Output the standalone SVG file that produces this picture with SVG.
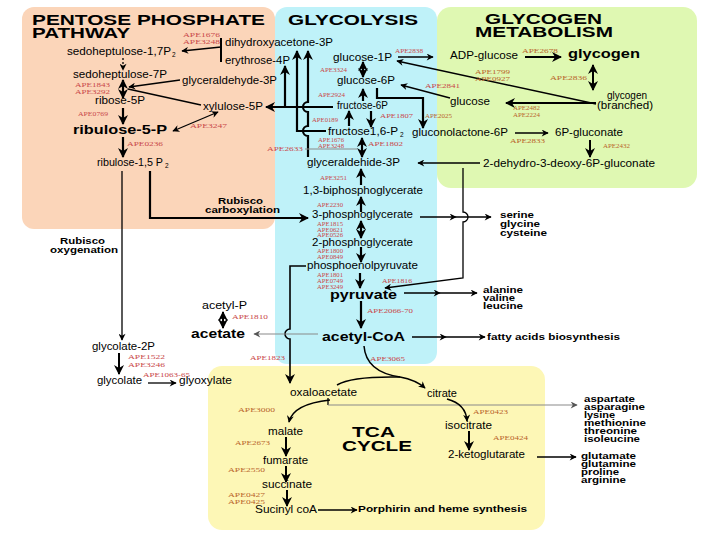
<svg xmlns="http://www.w3.org/2000/svg" width="720" height="540" viewBox="0 0 720 540">
<defs>
<style>
text{font-family:"Liberation Sans",Arial,sans-serif;fill:#000}
.n{font-size:10.5px}
.b{font-size:12.5px;font-weight:bold}
.t{font-size:14.5px;font-weight:bold}
.tc{font-size:15px;font-weight:bold}
.l{font-size:8.5px;font-weight:bold}
.s{font-size:6.5px}
.r{font-family:"Liberation Serif","Times New Roman",serif;font-size:6.5px;fill:#c9484a}
.o{font-family:"Liberation Serif","Times New Roman",serif;font-size:6.5px;fill:#b9652c}
.ln{fill:none;stroke:#000;stroke-width:1.3}
.tk{fill:none;stroke:#000;stroke-width:2.2}
.g{fill:none;stroke:#8a8a8a;stroke-width:1.2}
</style>
<marker id="a" viewBox="0 0 10 10" refX="9" refY="5" markerWidth="8" markerHeight="7" markerUnits="userSpaceOnUse" orient="auto-start-reverse"><path d="M0,0 L10,5 L0,10 L3,5z" fill="#000"/></marker>
<marker id="A" viewBox="0 0 10 10" refX="9" refY="5" markerWidth="10" markerHeight="10" markerUnits="userSpaceOnUse" orient="auto-start-reverse"><path d="M0,0 L10,5 L0,10 L3,5z" fill="#000"/></marker>
<marker id="ag" viewBox="0 0 10 10" refX="9" refY="5" markerWidth="8" markerHeight="7" markerUnits="userSpaceOnUse" orient="auto-start-reverse"><path d="M0,0 L10,5 L0,10 L3,5z" fill="#555"/></marker>
</defs>
<rect width="720" height="540" fill="#fff"/>
<g id="regions">
<rect x="22" y="7" width="253" height="222" rx="12" fill="#fbd5b9"/>
<rect x="275" y="7" width="162" height="357" rx="12" fill="#bff2f9"/>
<rect x="437" y="7" width="260" height="181" rx="14" fill="#dff8b2"/>
<rect x="208" y="366" width="337" height="164" rx="14" fill="#fdf7b6"/>
</g>
<g id="connectors">
<path class="tk" style="stroke-width:2" d="M221,38 V62"/>
<path class="ln" d="M221,47 L182,51" marker-end="url(#a)"/>
<path class="ln" d="M123,58 V70" stroke-dasharray="2,2" marker-end="url(#a)"/>
<path class="tk" d="M123,80 V98" marker-start="url(#A)" marker-end="url(#A)"/>
<path class="ln" d="M180,80 L129,87" marker-end="url(#a)"/>
<path class="ln" d="M128,89 L201,105"/>
<path class="tk" d="M123,108 V124" marker-end="url(#A)"/>
<path class="ln" d="M173,131 L218,112" marker-start="url(#a)" marker-end="url(#a)"/>
<path class="tk" d="M123,137 V157" marker-end="url(#A)"/>
<path class="ln" d="M122,171 V340" marker-end="url(#a)"/>
<path class="tk" d="M150,171 V218 H308" marker-end="url(#A)"/>
<path class="tk" d="M285,107 V66" marker-end="url(#A)"/>
<path class="tk" d="M333,107 H266" marker-end="url(#A)"/>
<path class="tk" d="M326,131 H297 V51" marker-end="url(#A)"/>
<path class="tk" d="M308,157 V136 A5,5 0 0 1 308,126 V112 A5,5 0 0 1 308,102 V51" marker-end="url(#A)"/>
<path class="tk" d="M363,62 V77" marker-start="url(#A)" marker-end="url(#A)"/>
<path class="tk" d="M363,101 V89" marker-end="url(#A)"/>
<path class="tk" d="M377,88 V98 H423 V128" marker-end="url(#A)"/>
<path class="tk" d="M349,126 V111" marker-end="url(#A)"/>
<path class="tk" d="M371,111 V127" marker-end="url(#A)"/>
<path class="tk" d="M362,138 V157" marker-start="url(#A)" marker-end="url(#A)"/>
<path class="g" d="M305,149 H357"/>
<path class="tk" d="M361,185 V169" marker-end="url(#A)"/>
<path class="tk" d="M361,212 V197" marker-end="url(#A)"/>
<path class="tk" d="M361,221 V238" marker-start="url(#A)" marker-end="url(#A)"/>
<path class="tk" d="M361,247 V262" marker-end="url(#A)"/>
<path class="tk" d="M360,273 V288" marker-end="url(#A)"/>
<path class="tk" d="M361,301 V328" marker-end="url(#A)"/>
<path class="ln" style="stroke-width:1.6" d="M306,266 H290 V329 A5,5 0 0 0 290,339 V383" marker-end="url(#A)"/>
<path class="g" d="M318,334 H254" marker-end="url(#ag)"/>
<path class="tk" style="stroke-width:2" d="M223,312 V328" marker-start="url(#A)" marker-end="url(#A)"/>
<path class="ln" d="M404,293 L440,293 L477,293" marker-mid="url(#a)" marker-end="url(#a)"/>
<path class="ln" d="M420,217 L456,217 L491,217" marker-mid="url(#a)" marker-end="url(#a)"/>
<path class="ln" d="M412,337 L446,337 L485,337" marker-mid="url(#a)" marker-end="url(#a)"/>
<path class="ln" d="M480,163 H418" marker-end="url(#a)"/>
<path class="ln" d="M463,168 V212 A5,5 0 0 1 463,222 V278 L385,288" marker-end="url(#a)"/>
<path class="ln" style="stroke-width:1.5" d="M398,57 H433" marker-end="url(#a)"/>
<path class="tk" style="stroke-width:2" d="M525,57 H561" marker-end="url(#A)"/>
<path class="tk" style="stroke-width:2" d="M593,65 V90" marker-start="url(#A)" marker-end="url(#A)"/>
<path class="tk" style="stroke-width:2" d="M596,103 H506" marker-end="url(#A)"/>
<path class="ln" style="stroke-width:1.5" d="M596,104 L397,61" marker-end="url(#a)"/>
<path class="ln" d="M450,98 L401,85" marker-end="url(#a)"/>
<path class="ln" d="M515,133 H548" marker-end="url(#a)"/>
<path class="tk" style="stroke-width:2" d="M590,140 V157" marker-end="url(#A)"/>
<path class="ln" style="stroke-width:1.5" d="M364,346 Q366,372 400,377 Q416,380 425,388" marker-end="url(#a)"/>
<path class="ln" style="stroke-width:1.5" d="M337,385 Q352,376 400,377"/>
<path class="ln" d="M328,398 V405"/>
<path class="g" d="M328,405 H577" marker-end="url(#ag)"/>
<path class="ln" style="stroke-width:1.5" d="M447,399 Q466,404 467,421" marker-end="url(#a)"/>
<path class="tk" style="stroke-width:2" d="M469,431 V450" marker-end="url(#A)"/>
<path class="ln" style="stroke-width:1.5" d="M537,457 H576" marker-end="url(#a)"/>
<path class="ln" style="stroke-width:1.5" d="M330,400 Q293,404 289,422" marker-end="url(#a)"/>
<path class="tk" style="stroke-width:2" d="M286,437 V456" marker-end="url(#A)"/>
<path class="tk" style="stroke-width:2" d="M286,466 V482" marker-end="url(#A)"/>
<path class="tk" style="stroke-width:2" d="M287,490 V506" marker-end="url(#A)"/>
<path class="ln" d="M318,510 H357" marker-end="url(#a)"/>
<path class="tk" style="stroke-width:2" d="M119,353 V374" marker-end="url(#A)"/>
<path class="ln" d="M148,383 H176" marker-end="url(#a)"/>
</g>
<g id="titles">
<text class="t" x="32" y="25" textLength="233" lengthAdjust="spacingAndGlyphs">PENTOSE PHOSPHATE</text>
<text class="t" x="32" y="38" textLength="98" lengthAdjust="spacingAndGlyphs">PATHWAY</text>
<text class="t" x="288" y="25" textLength="130" lengthAdjust="spacingAndGlyphs">GLYCOLYSIS</text>
<text class="t" x="485" y="24" textLength="117" lengthAdjust="spacingAndGlyphs">GLYCOGEN</text>
<text class="t" x="475" y="37" textLength="138" lengthAdjust="spacingAndGlyphs">METABOLISM</text>
<text class="tc" x="352" y="437" textLength="43" lengthAdjust="spacingAndGlyphs">TCA</text>
<text class="tc" x="342" y="451" textLength="70" lengthAdjust="spacingAndGlyphs">CYCLE</text>
</g>
<g id="n-sedoheptulose-17P2"><text class="n" x="67" y="55" textLength="104" lengthAdjust="spacingAndGlyphs">sedoheptulose-1,7P</text><text class="s" x="172" y="57">2</text></g>
<g id="n-sedoheptulose-7P"><text class="n" x="73" y="78" textLength="94" lengthAdjust="spacingAndGlyphs">sedoheptulose-7P</text></g>
<g id="n-ribose-5P"><text class="n" x="95" y="104" textLength="50" lengthAdjust="spacingAndGlyphs">ribose-5P</text></g>
<g id="n-ribulose-5-P"><text class="b" x="73" y="134" textLength="94" lengthAdjust="spacingAndGlyphs">ribulose-5-P</text></g>
<g id="n-ribulose-15P2"><text class="n" x="97" y="166" textLength="66" lengthAdjust="spacingAndGlyphs">ribulose-1,5 P</text><text class="s" x="165" y="168">2</text></g>
<g id="n-dihydroxyacetone-3P"><text class="n" x="225" y="46" textLength="108" lengthAdjust="spacingAndGlyphs">dihydroxyacetone-3P</text></g>
<g id="n-erythrose-4P"><text class="n" x="225" y="64" textLength="65" lengthAdjust="spacingAndGlyphs">erythrose-4P</text></g>
<g id="n-glyceraldehyde-3P"><text class="n" x="182" y="84" textLength="95" lengthAdjust="spacingAndGlyphs">glyceraldehyde-3P</text></g>
<g id="n-xylulose-5P"><text class="n" x="203" y="110" textLength="60" lengthAdjust="spacingAndGlyphs">xylulose-5P</text></g>
<g id="n-glucose-1P"><text class="n" x="333" y="61" textLength="59" lengthAdjust="spacingAndGlyphs">glucose-1P</text></g>
<g id="n-glucose-6P"><text class="n" x="337" y="84" textLength="58" lengthAdjust="spacingAndGlyphs">glucose-6P</text></g>
<g id="n-fructose-6P"><text class="n" x="337" y="109" textLength="51" lengthAdjust="spacingAndGlyphs">fructose-6P</text></g>
<g id="n-fructose16P2"><text class="n" x="328" y="135" textLength="70" lengthAdjust="spacingAndGlyphs">fructose1,6-P</text><text class="s" x="400" y="137">2</text></g>
<g id="n-glyceraldehide-3P"><text class="n" x="307" y="166" textLength="93" lengthAdjust="spacingAndGlyphs">glyceraldehide-3P</text></g>
<g id="n-13bpg"><text class="n" x="303" y="194" textLength="120" lengthAdjust="spacingAndGlyphs">1,3-biphosphoglycerate</text></g>
<g id="n-3pg"><text class="n" x="312" y="218" textLength="101" lengthAdjust="spacingAndGlyphs">3-phosphoglycerate</text></g>
<g id="n-2pg"><text class="n" x="312" y="246" textLength="101" lengthAdjust="spacingAndGlyphs">2-phosphoglycerate</text></g>
<g id="n-pep"><text class="n" x="307" y="269" textLength="111" lengthAdjust="spacingAndGlyphs">phosphoenolpyruvate</text></g>
<g id="n-pyruvate"><text class="b" x="330" y="299" textLength="67" lengthAdjust="spacingAndGlyphs">pyruvate</text></g>
<g id="n-acetyl-CoA"><text class="b" x="322" y="341" textLength="83" lengthAdjust="spacingAndGlyphs">acetyl-CoA</text></g>
<g id="n-acetyl-P"><text class="n" x="202" y="309" textLength="45" lengthAdjust="spacingAndGlyphs">acetyl-P</text></g>
<g id="n-acetate"><text class="b" x="191" y="338" textLength="54" lengthAdjust="spacingAndGlyphs">acetate</text></g>
<g id="n-rubisco-carb"><text class="l" x="218" y="204" textLength="45" lengthAdjust="spacingAndGlyphs">Rubisco</text><text class="l" x="205" y="213" textLength="75" lengthAdjust="spacingAndGlyphs">carboxylation</text></g>
<g id="n-rubisco-oxy"><text class="l" x="60" y="244" textLength="45" lengthAdjust="spacingAndGlyphs">Rubisco</text><text class="l" x="50" y="253" textLength="68" lengthAdjust="spacingAndGlyphs">oxygenation</text></g>
<g id="n-glycolate-2P"><text class="n" x="92" y="350" textLength="63" lengthAdjust="spacingAndGlyphs">glycolate-2P</text></g>
<g id="n-glycolate"><text class="n" x="97" y="384" textLength="45" lengthAdjust="spacingAndGlyphs">glycolate</text></g>
<g id="n-glyoxylate"><text class="n" x="179" y="384" textLength="53" lengthAdjust="spacingAndGlyphs">glyoxylate</text></g>
<g id="n-serine"><text class="l" x="500" y="218" textLength="34" lengthAdjust="spacingAndGlyphs">serine</text><text class="l" x="500" y="227" textLength="40" lengthAdjust="spacingAndGlyphs">glycine</text><text class="l" x="500" y="236" textLength="47" lengthAdjust="spacingAndGlyphs">cysteine</text></g>
<g id="n-alanine"><text class="l" x="483" y="293" textLength="40" lengthAdjust="spacingAndGlyphs">alanine</text><text class="l" x="483" y="301" textLength="32" lengthAdjust="spacingAndGlyphs">valine</text><text class="l" x="483" y="309" textLength="40" lengthAdjust="spacingAndGlyphs">leucine</text></g>
<g id="n-fatty"><text class="l" x="487" y="340" textLength="133" lengthAdjust="spacingAndGlyphs">fatty acids biosynthesis</text></g>
<g id="n-ADP-glucose"><text class="n" x="450" y="59" textLength="68" lengthAdjust="spacingAndGlyphs">ADP-glucose</text></g>
<g id="n-glycogen"><text class="b" x="568" y="58" textLength="72" lengthAdjust="spacingAndGlyphs">glycogen</text></g>
<g id="n-glycogen-branched"><text class="n" style="font-size:10px" x="607" y="99" textLength="40" lengthAdjust="spacingAndGlyphs">glycogen</text><text class="n" style="font-size:10px" x="597" y="109" textLength="56" lengthAdjust="spacingAndGlyphs">(branched)</text></g>
<g id="n-glucose"><text class="n" x="450" y="105" textLength="40" lengthAdjust="spacingAndGlyphs">glucose</text></g>
<g id="n-gluconolactone"><text class="n" x="412" y="136" textLength="96" lengthAdjust="spacingAndGlyphs">gluconolactone-6P</text></g>
<g id="n-6P-gluconate"><text class="n" x="555" y="136" textLength="68" lengthAdjust="spacingAndGlyphs">6P-gluconate</text></g>
<g id="n-kdpg"><text class="n" x="483" y="167" textLength="172" lengthAdjust="spacingAndGlyphs">2-dehydro-3-deoxy-6P-gluconate</text></g>
<g id="n-oxaloacetate"><text class="n" x="290" y="396" textLength="67" lengthAdjust="spacingAndGlyphs">oxaloacetate</text></g>
<g id="n-citrate"><text class="n" x="427" y="397" textLength="30" lengthAdjust="spacingAndGlyphs">citrate</text></g>
<g id="n-isocitrate"><text class="n" x="445" y="429" textLength="47" lengthAdjust="spacingAndGlyphs">isocitrate</text></g>
<g id="n-2kg"><text class="n" x="448" y="458" textLength="77" lengthAdjust="spacingAndGlyphs">2-ketoglutarate</text></g>
<g id="n-malate"><text class="n" x="268" y="435" textLength="35" lengthAdjust="spacingAndGlyphs">malate</text></g>
<g id="n-fumarate"><text class="n" x="263" y="464" textLength="45" lengthAdjust="spacingAndGlyphs">fumarate</text></g>
<g id="n-succinate"><text class="n" x="262" y="488" textLength="50" lengthAdjust="spacingAndGlyphs">succinate</text></g>
<g id="n-succinyl"><text class="n" x="255" y="513" textLength="62" lengthAdjust="spacingAndGlyphs">Sucinyl coA</text></g>
<g id="n-porphirin"><text class="l" x="358" y="512" textLength="169" lengthAdjust="spacingAndGlyphs">Porphirin and heme synthesis</text></g>
<g id="n-aspartate"><text class="l" x="584" y="402" textLength="51" lengthAdjust="spacingAndGlyphs">aspartate</text><text class="l" x="584" y="410" textLength="61" lengthAdjust="spacingAndGlyphs">asparagine</text><text class="l" x="584" y="418" textLength="31" lengthAdjust="spacingAndGlyphs">lysine</text><text class="l" x="584" y="426" textLength="62" lengthAdjust="spacingAndGlyphs">methionine</text><text class="l" x="584" y="434" textLength="53" lengthAdjust="spacingAndGlyphs">threonine</text><text class="l" x="584" y="442" textLength="56" lengthAdjust="spacingAndGlyphs">isoleucine</text></g>
<g id="n-glutamate"><text class="l" x="581" y="459" textLength="55" lengthAdjust="spacingAndGlyphs">glutamate</text><text class="l" x="581" y="467" textLength="55" lengthAdjust="spacingAndGlyphs">glutamine</text><text class="l" x="581" y="475" textLength="38" lengthAdjust="spacingAndGlyphs">proline</text><text class="l" x="581" y="483" textLength="45" lengthAdjust="spacingAndGlyphs">arginine</text></g>
<g id="enzymes">
<text class="r" x="183" y="37" textLength="37" lengthAdjust="spacingAndGlyphs">APE1676</text>
<text class="r" x="183" y="44" textLength="37" lengthAdjust="spacingAndGlyphs">APE3248</text>
<text class="r" x="75" y="87" textLength="35" lengthAdjust="spacingAndGlyphs">APE1843</text>
<text class="r" x="75" y="94" textLength="35" lengthAdjust="spacingAndGlyphs">APE3292</text>
<text class="r" x="78" y="116" textLength="30" lengthAdjust="spacingAndGlyphs">APE0769</text>
<text class="r" x="190" y="128" textLength="37" lengthAdjust="spacingAndGlyphs">APE3247</text>
<text class="r" x="127" y="146" textLength="36" lengthAdjust="spacingAndGlyphs">APE0236</text>
<text class="r" x="320" y="72" textLength="27" lengthAdjust="spacingAndGlyphs">APE3324</text>
<text class="r" x="318" y="97" textLength="27" lengthAdjust="spacingAndGlyphs">APE2924</text>
<text class="r" x="312" y="122" textLength="26" lengthAdjust="spacingAndGlyphs">APE0189</text>
<text class="r" x="380" y="118" textLength="33" lengthAdjust="spacingAndGlyphs">APE1807</text>
<text class="r" x="318" y="142" textLength="26" lengthAdjust="spacingAndGlyphs">APE1676</text>
<text class="r" x="318" y="148" textLength="26" lengthAdjust="spacingAndGlyphs">APE3248</text>
<text class="r" x="368" y="146" textLength="35" lengthAdjust="spacingAndGlyphs">APE1802</text>
<text class="r" x="267" y="151" textLength="36" lengthAdjust="spacingAndGlyphs">APE2633</text>
<text class="r" x="320" y="180" textLength="27" lengthAdjust="spacingAndGlyphs">APE3251</text>
<text class="r" x="317" y="207" textLength="26" lengthAdjust="spacingAndGlyphs">APE2230</text>
<text class="r" x="317" y="226" textLength="26" lengthAdjust="spacingAndGlyphs">APE1815</text>
<text class="r" x="317" y="231.5" textLength="26" lengthAdjust="spacingAndGlyphs">APE0621</text>
<text class="r" x="317" y="237" textLength="26" lengthAdjust="spacingAndGlyphs">APE0526</text>
<text class="r" x="317" y="253" textLength="26" lengthAdjust="spacingAndGlyphs">APE1800</text>
<text class="r" x="317" y="259" textLength="26" lengthAdjust="spacingAndGlyphs">APE0849</text>
<text class="r" x="317" y="277" textLength="26" lengthAdjust="spacingAndGlyphs">APE1801</text>
<text class="r" x="317" y="283" textLength="26" lengthAdjust="spacingAndGlyphs">APE0749</text>
<text class="r" x="317" y="289" textLength="26" lengthAdjust="spacingAndGlyphs">APE3249</text>
<text class="r" x="382" y="283" textLength="30" lengthAdjust="spacingAndGlyphs">APE1816</text>
<text class="r" x="367" y="313" textLength="46" lengthAdjust="spacingAndGlyphs">APE2066-70</text>
<text class="r" x="232" y="319" textLength="36" lengthAdjust="spacingAndGlyphs">APE1810</text>
<text class="r" x="250" y="360" textLength="35" lengthAdjust="spacingAndGlyphs">APE1823</text>
<text class="r" x="370" y="361" textLength="35" lengthAdjust="spacingAndGlyphs">APE3065</text>
<text class="r" x="128" y="359" textLength="37" lengthAdjust="spacingAndGlyphs">APE1522</text>
<text class="r" x="128" y="367" textLength="37" lengthAdjust="spacingAndGlyphs">APE3246</text>
<text class="r" x="143" y="377" textLength="47" lengthAdjust="spacingAndGlyphs">APE1063-65</text>
<text class="r" x="395" y="53" textLength="28" lengthAdjust="spacingAndGlyphs">APE2838</text>
<text class="o" x="522" y="53" textLength="36" lengthAdjust="spacingAndGlyphs">APE2678</text>
<text class="o" x="475" y="74" textLength="35" lengthAdjust="spacingAndGlyphs">APE1799</text>
<text class="o" x="475" y="80.5" textLength="35" lengthAdjust="spacingAndGlyphs">APE0927</text>
<text class="o" x="550" y="80" textLength="37" lengthAdjust="spacingAndGlyphs">APE2836</text>
<text class="r" x="425" y="88" textLength="35" lengthAdjust="spacingAndGlyphs">APE2841</text>
<text class="o" x="425" y="118" textLength="27" lengthAdjust="spacingAndGlyphs">APE2025</text>
<text class="o" x="513" y="110" textLength="27" lengthAdjust="spacingAndGlyphs">APE2482</text>
<text class="o" x="513" y="117" textLength="27" lengthAdjust="spacingAndGlyphs">APE2224</text>
<text class="o" x="510" y="143" textLength="35" lengthAdjust="spacingAndGlyphs">APE2833</text>
<text class="o" x="603" y="148" textLength="27" lengthAdjust="spacingAndGlyphs">APE2432</text>
<text class="o" x="238" y="412" textLength="37" lengthAdjust="spacingAndGlyphs">APE3000</text>
<text class="o" x="235" y="445" textLength="35" lengthAdjust="spacingAndGlyphs">APE2673</text>
<text class="o" x="228" y="472" textLength="37" lengthAdjust="spacingAndGlyphs">APE2550</text>
<text class="o" x="228" y="497" textLength="37" lengthAdjust="spacingAndGlyphs">APE0427</text>
<text class="o" x="228" y="504" textLength="37" lengthAdjust="spacingAndGlyphs">APE0425</text>
<text class="o" x="473" y="414" textLength="35" lengthAdjust="spacingAndGlyphs">APE0423</text>
<text class="o" x="493" y="440" textLength="35" lengthAdjust="spacingAndGlyphs">APE0424</text>
</g>
</svg>
